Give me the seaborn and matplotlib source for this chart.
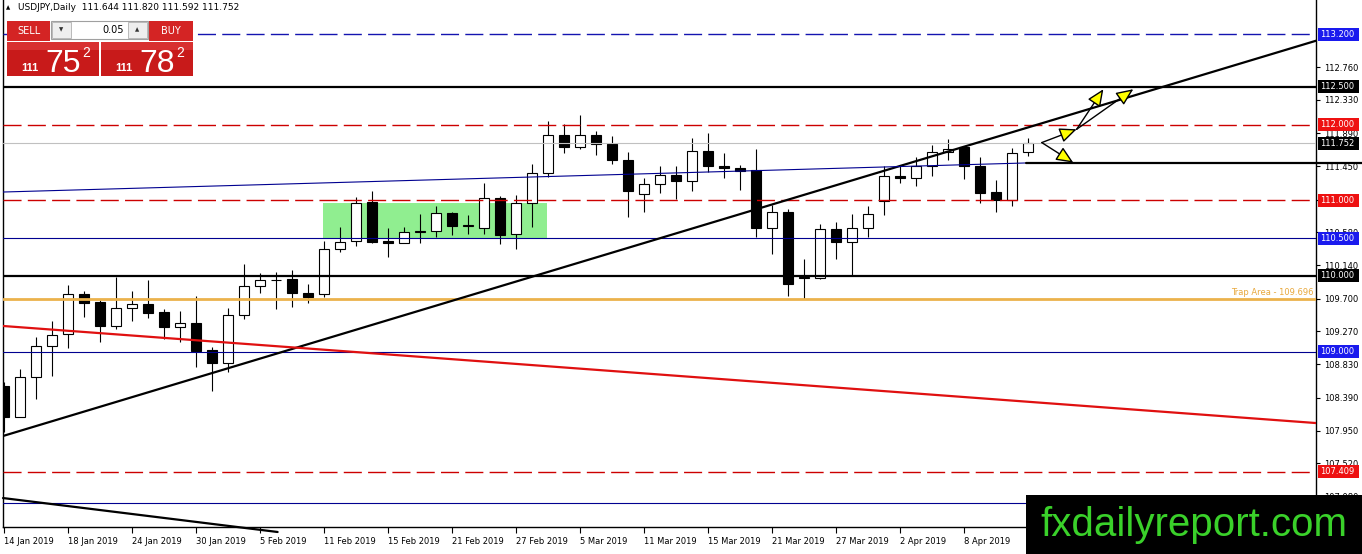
import numpy as np
import pandas as pd
import seaborn as sns
import matplotlib.pyplot as plt
from matplotlib.patches import Rectangle

# Dados (USDJPY diário)
opens = [108.54, 108.14, 108.66, 109.07, 109.23, 109.76, 109.65, 109.34, 109.57, 109.63,
         109.52, 109.32, 109.38, 109.02, 108.85, 109.48, 109.87, 109.94, 109.96, 109.78,
         109.76, 110.35, 110.46, 110.98, 110.46, 110.43, 110.58, 110.60, 110.83, 110.66,
         110.63, 111.03, 110.55, 110.96, 111.36, 111.87, 111.71, 111.86, 111.75, 111.54,
         111.09, 111.21, 111.33, 111.26, 111.65, 111.46, 111.43, 111.40, 110.63, 110.84,
         109.97, 109.97, 110.62, 110.45, 110.63, 110.99, 111.32, 111.29, 111.46, 111.64,
         111.70, 111.45, 111.11, 111.00, 111.644]
highs = [108.60, 108.77, 109.19, 109.40, 109.88, 109.80, 109.68, 109.98, 109.80, 109.95,
         109.56, 109.54, 109.73, 109.06, 109.57, 110.16, 110.04, 110.05, 110.08, 109.89,
         110.46, 110.65, 111.04, 111.13, 110.63, 110.65, 110.82, 110.93, 110.84, 110.80,
         111.23, 111.06, 111.07, 111.48, 112.05, 112.01, 112.13, 111.92, 111.85, 111.64,
         111.29, 111.45, 111.45, 111.83, 111.89, 111.62, 111.47, 111.68, 110.94, 110.89,
         110.23, 110.69, 110.72, 110.82, 110.93, 111.45, 111.45, 111.57, 111.73, 111.81,
         111.72, 111.57, 111.27, 111.69, 111.820]
lows = [107.94, 108.13, 108.37, 108.68, 109.05, 109.46, 109.13, 109.30, 109.41, 109.45,
        109.16, 109.12, 108.80, 108.48, 108.73, 109.43, 109.77, 109.56, 109.59, 109.64,
        109.72, 110.32, 110.40, 110.44, 110.25, 110.43, 110.44, 110.52, 110.54, 110.55,
        110.56, 110.42, 110.35, 110.65, 111.31, 111.63, 111.68, 111.60, 111.48, 110.78,
        110.85, 111.10, 111.02, 111.13, 111.37, 111.29, 111.14, 110.52, 110.29, 109.73,
        109.69, 109.96, 110.23, 110.00, 110.52, 110.80, 111.23, 111.19, 111.32, 111.54,
        111.28, 110.97, 110.84, 110.92, 111.592]
closes = [108.14, 108.66, 109.07, 109.22, 109.76, 109.64, 109.34, 109.57, 109.63, 109.51,
          109.32, 109.38, 109.01, 108.85, 109.48, 109.87, 109.94, 109.95, 109.78, 109.72,
          110.35, 110.45, 110.97, 110.45, 110.43, 110.58, 110.60, 110.83, 110.66, 110.67,
          111.03, 110.54, 110.96, 111.36, 111.87, 111.71, 111.86, 111.74, 111.53, 111.13,
          111.21, 111.33, 111.26, 111.65, 111.46, 111.43, 111.39, 110.63, 110.84, 109.89,
          109.98, 110.62, 110.45, 110.63, 110.82, 111.32, 111.29, 111.46, 111.64, 111.68,
          111.45, 111.10, 111.00, 111.62, 111.752]

date_ticks = [0, 4, 8, 12, 16, 20, 24, 28, 32, 36, 40, 44, 48, 52, 56, 60]
date_labels = ['14 Jan 2019', '18 Jan 2019', '24 Jan 2019', '30 Jan 2019', '5 Feb 2019',
               '11 Feb 2019', '15 Feb 2019', '21 Feb 2019', '27 Feb 2019', '5 Mar 2019',
               '11 Mar 2019', '15 Mar 2019', '21 Mar 2019', '27 Mar 2019', '2 Apr 2019',
               '8 Apr 2019']
price_ticks = [112.76, 112.33, 111.89, 111.45, 111.01, 110.58, 110.14, 109.70,
               109.27, 108.83, 108.39, 107.95, 107.52, 107.08]
# 111.010 fica escondido atrás do rótulo 111.000
price_tick_labels = ['112.760', '112.330', '111.890', '111.450', '', '110.580', '110.140',
                     '109.700', '109.270', '108.830', '108.390', '107.950', '107.520',
                     '107.080']

# níveis horizontais: preço, cor, estilo, largura
levels_price = [113.2, 112.5, 112.0, 111.752, 111.0, 110.5, 110.0, 109.696, 109.0, 107.409, 107.0]
levels_color = ['#1414b0', 'black', '#cc0000', '#c0c0c0', '#cc0000', '#000090', 'black',
                '#ebb24c', '#000090', '#cc0000', '#000090']
levels_style = ['dash', 'solid', 'dash', 'solid', 'dash', 'solid', 'solid', 'solid',
                'solid', 'dash', 'solid']
levels_width = [1.0, 1.6, 1.0, 0.8, 1.0, 0.8, 1.6, 2.0, 0.8, 1.0, 0.8]

# rótulos coloridos do eixo de preços
tag_price = [113.2, 112.5, 112.0, 111.752, 111.0, 110.5, 110.0, 109.0, 107.409]
tag_text = ['113.200', '112.500', '112.000', '111.752', '111.000', '110.500', '110.000',
            '109.000', '107.409']
tag_color = ['#1a1aee', 'black', '#ee1111', 'black', '#ee1111', '#1a1aee', 'black',
             '#1a1aee', '#ee1111']

# linhas de tendência
trend_up_x = [-0.06, 82.0]
trend_up_y = [107.883, 113.111]
trend_red_x = [-0.06, 82.0]
trend_red_y = [109.338, 108.054]
trend_navy_x = [-0.06, 63.8]
trend_navy_y = [111.11, 111.494]
trend_down_x = [-0.06, 17.1]
trend_down_y = [107.062, 106.613]
res_line_x = [63.9, 84.9]
res_line_y = [111.5, 111.5]

# zona de consolidação
box_x = [19.94, 33.94]
box_y = [110.50, 110.97]

# setas de cenário
arrow_x0 = [64.86, 64.86, 67.04, 67.04]
arrow_y0 = [111.764, 111.764, 111.94, 111.94]
arrow_x1 = [66.83, 67.04, 68.71, 70.58]
arrow_y1 = [111.499, 111.94, 112.47, 112.47]

W, H = 1362, 554

sns.set_theme(style='white')
plt.rcParams['font.family'] = ['DejaVu Sans']

fig = plt.figure(figsize=(W / 100, H / 100), dpi=100)
ax = fig.add_axes([3 / W, 27 / H, 1313 / W, 527 / H])

df = pd.DataFrame({'open': opens, 'high': highs, 'low': lows, 'close': closes})
df['idx'] = np.arange(len(df))
df['bull'] = df['close'] >= df['open']
df['body_low'] = df[['open', 'close']].min(axis=1)
df['body_h'] = (df['close'] - df['open']).abs().clip(lower=0.004)

# zona verde
ax.add_patch(Rectangle((box_x[0], box_y[0]), box_x[1] - box_x[0], box_y[1] - box_y[0],
                       facecolor='#90ee90', edgecolor='none', zorder=1))

# candles
ax.vlines(df['idx'], df['low'], df['high'], color='black', lw=0.8, zorder=3)
ax.bar(df['idx'], df['body_h'], bottom=df['body_low'], width=0.62,
       color=np.where(df['bull'], 'white', 'black'), edgecolor='black',
       linewidth=0.8, zorder=4)

# níveis horizontais
for p, c, s, w in zip(levels_price, levels_color, levels_style, levels_width):
    ls = (0, (13, 4.5)) if s == 'dash' else '-'
    ax.axhline(p, color=c, linestyle=ls, linewidth=w, zorder=5)

# tendências
sns.lineplot(x=trend_up_x, y=trend_up_y, color='black', linewidth=1.6, ax=ax, zorder=6)
sns.lineplot(x=trend_red_x, y=trend_red_y, color='#e01010', linewidth=1.6, ax=ax, zorder=6)
sns.lineplot(x=trend_navy_x, y=trend_navy_y, color='#000090', linewidth=0.8, ax=ax, zorder=6)
sns.lineplot(x=trend_down_x, y=trend_down_y, color='black', linewidth=1.6, ax=ax,
             zorder=6, clip_on=False)
ax.plot(res_line_x, res_line_y, color='black', linewidth=1.6, zorder=6, clip_on=False)

# setas
for x0, y0, x1, y1 in zip(arrow_x0, arrow_y0, arrow_x1, arrow_y1):
    ax.annotate('', xy=(x1, y1), xytext=(x0, y0), zorder=7,
                arrowprops=dict(arrowstyle='-|>,head_length=0.8,head_width=0.35',
                                fc='#ffff00', ec='black', lw=1.0, mutation_scale=13,
                                shrinkA=0, shrinkB=0))

ax.text(81.85, 109.725, 'Trap Area - 109.696', color='#e8a83c', fontsize=6,
        ha='right', va='bottom', zorder=7)

ax.set_xlim(-0.0625, 82.0)
ax.set_ylim(106.679, 113.650)

# eixos
ax.yaxis.tick_right()
ax.set_yticks(price_ticks)
ax.set_yticklabels(price_tick_labels)
ax.set_xticks(date_ticks)
ax.set_xticklabels(date_labels, ha='left')
ax.tick_params(axis='y', which='both', right=True, left=False, length=3, width=0.8,
               pad=3, labelsize=6, colors='black')
ax.tick_params(axis='x', which='both', bottom=True, length=4, width=0.8,
               pad=3, labelsize=6, colors='black')
ax.set_xlabel('')
ax.set_ylabel('')
for side in ['left', 'bottom', 'right']:
    ax.spines[side].set_color('black')
    ax.spines[side].set_linewidth(1.0)
ax.spines['top'].set_visible(False)
ax.grid(False)

# rótulos coloridos à direita
ytrans = ax.get_yaxis_transform()
half = 6.5 / 75.6
for p, t, c in zip(tag_price, tag_text, tag_color):
    ax.add_patch(Rectangle(((1318 - 3) / 1313, p - half), 41 / 1313, 2 * half,
                           transform=ytrans, facecolor=c, edgecolor='none',
                           clip_on=False, zorder=10))
    ax.text((1320 - 3) / 1313, p, t, transform=ytrans, color='white', fontsize=6,
            va='center', ha='left', clip_on=False, zorder=11)


# painel superior (SELL / BUY)
def box(x0, y0, x1, y1, fc, ec='none', lw=0.0, z=20):
    fig.add_artist(Rectangle((x0 / W, 1 - y1 / H), (x1 - x0) / W, (y1 - y0) / H,
                             transform=fig.transFigure, facecolor=fc, edgecolor=ec,
                             linewidth=lw, zorder=z))


def label(x, y, s, **kw):
    fig.text(x / W, 1 - y / H, s, zorder=25, **kw)


label(6, 8, '▲', fontsize=4, color='black', va='center')
label(18, 8, 'USDJPY,Daily  111.644 111.820 111.592 111.752', fontsize=6.5,
      color='black', va='center')

box(7, 21, 50, 41, '#d42424')
box(149, 21, 193, 41, '#d42424')
box(51, 21, 148, 39, 'white', ec='#a0a0a0', lw=0.8)
box(52, 22, 71, 38, '#eeeeee', ec='#b0b0b0', lw=0.6)
box(128, 22, 147, 38, '#eeeeee', ec='#b0b0b0', lw=0.6)
box(7, 42, 99, 76, '#c81a1a')
box(101, 42, 193, 76, '#c81a1a')
box(7, 42, 99, 50, '#d83030')
box(101, 42, 193, 50, '#d83030')

label(29, 31, 'SELL', fontsize=7, color='white', ha='center', va='center')
label(171, 31, 'BUY', fontsize=7, color='white', ha='center', va='center')
label(124, 30, '0.05', fontsize=7, color='black', ha='right', va='center')
label(61.5, 30, '▼', fontsize=4, color='#333333', ha='center', va='center')
label(137.5, 30, '▲', fontsize=4, color='#333333', ha='center', va='center')

big_font = ['Liberation Sans', 'DejaVu Sans']
label(21, 71, '111', fontsize=8, color='white', va='baseline', family=big_font,
      fontweight='bold')
label(45, 72, '75', fontsize=23, color='white', va='baseline', family=big_font)
label(82, 53, '2', fontsize=10, color='white', va='center', family=big_font)
label(115, 71, '111', fontsize=8, color='white', va='baseline', family=big_font,
      fontweight='bold')
label(139, 72, '78', fontsize=23, color='white', va='baseline', family=big_font)
label(176, 53, '2', fontsize=10, color='white', va='center', family=big_font)

# marca d'água
box(1026, 495, 1362, 554, 'black', z=30)
fig.text(1040 / W, 1 - 536 / H, 'fxdailyreport.com', fontsize=29, color='#3ad12a',
         va='baseline', ha='left', family=big_font, zorder=31)

fig.savefig('out.png', dpi=100)
